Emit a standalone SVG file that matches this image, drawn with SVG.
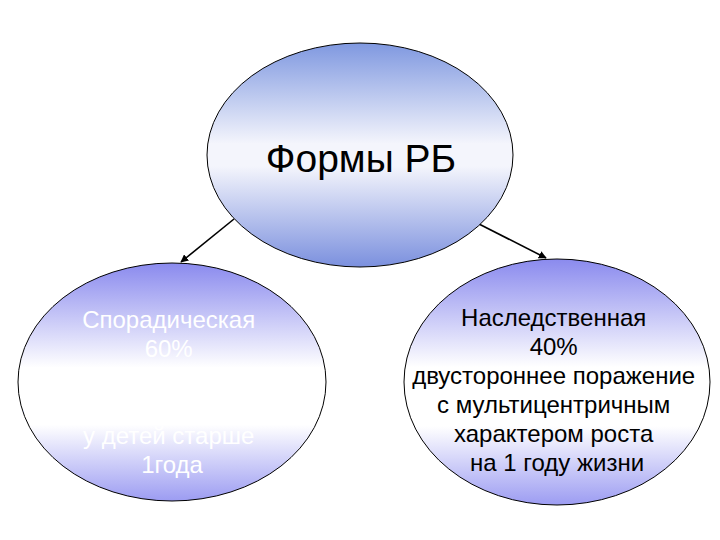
<svg xmlns="http://www.w3.org/2000/svg" width="720" height="540" viewBox="0 0 720 540">
  <defs>
    <linearGradient id="gTop" x1="0" y1="0" x2="0" y2="1">
      <stop offset="0" stop-color="#7f98e0"/>
      <stop offset="0.45" stop-color="#f4f5fc"/>
      <stop offset="0.55" stop-color="#f4f5fc"/>
      <stop offset="1" stop-color="#7b90de"/>
    </linearGradient>
    <linearGradient id="gSub" x1="0" y1="0" x2="0" y2="1">
      <stop offset="0" stop-color="#8a8aee"/>
      <stop offset="0.44" stop-color="#ffffff"/>
      <stop offset="0.68" stop-color="#ffffff"/>
      <stop offset="1" stop-color="#9c9cf2"/>
    </linearGradient>
    <marker id="arrow" viewBox="0 0 10 10" refX="9" refY="5" markerWidth="8" markerHeight="8" markerUnits="userSpaceOnUse" orient="auto">
      <path d="M0,0 L10,5 L0,10 z" fill="#000"/>
    </marker>
    <style>
      .node { stroke: #000; stroke-width: 1; }
      .lbl { font-family: "Liberation Sans", Arial, sans-serif; text-anchor: middle; }
      .dark { fill: #000; font-size: 24px; }
      .light { fill: #ffffff; font-size: 24px; }
      .conn { stroke: #000; stroke-width: 1.6; fill: none; marker-end: url(#arrow); }
    </style>
  </defs>
  <rect width="720" height="540" fill="#ffffff"/>

  <g id="connectors">
    <line class="conn" x1="234" y1="219" x2="181" y2="262"/>
    <line class="conn" x1="479" y1="224" x2="546" y2="258"/>
  </g>

  <g id="node-root">
    <ellipse class="node" cx="360" cy="155" rx="153" ry="112" fill="url(#gTop)"/>
    <text class="lbl" x="361" y="172" font-size="39" fill="#000">Формы РБ</text>
  </g>

  <g id="node-sporadic">
    <ellipse class="node" cx="172" cy="382" rx="154" ry="119" fill="url(#gSub)"/>
    <text class="lbl light">
      <tspan x="172" y="328">Спорадическая</tspan>
      <tspan x="172" y="357">60%</tspan>
      <tspan x="172" y="386">односторонний</tspan>
      <tspan x="172" y="415">с монофокальным ростом</tspan>
      <tspan x="172" y="444">у детей старше</tspan>
      <tspan x="172" y="473">1года</tspan>
    </text>
  </g>

  <g id="node-hereditary">
    <ellipse class="node" cx="557" cy="382" rx="153" ry="123" fill="url(#gSub)"/>
    <text class="lbl dark">
      <tspan x="557" y="326">Наследственная</tspan>
      <tspan x="557" y="355">40%</tspan>
      <tspan x="557" y="384">двустороннее поражение</tspan>
      <tspan x="557" y="413">с мультицентричным</tspan>
      <tspan x="557" y="442">характером роста</tspan>
      <tspan x="557" y="471">на 1 году жизни</tspan>
    </text>
  </g>
</svg>
